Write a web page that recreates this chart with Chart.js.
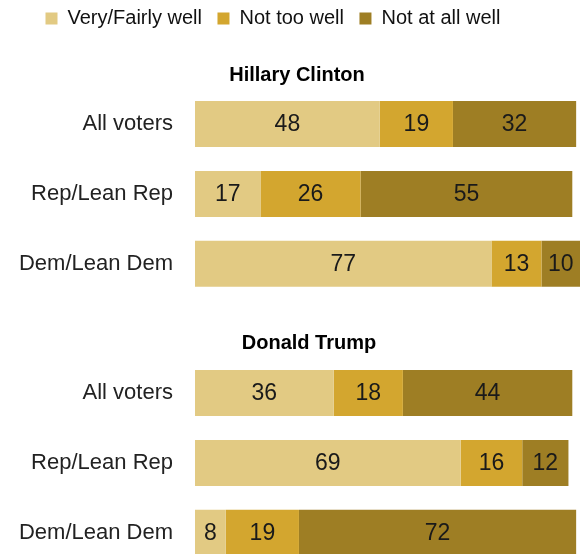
<!DOCTYPE html>
<html>
<head>
<meta charset="utf-8">
<script src="https://cdn.jsdelivr.net/npm/chart.js@4"></script>
<style>
    html, body { margin: 0; padding: 0; background: #fff; overflow: hidden; }
    #wrap { position: relative; width: 584px; height: 554px; overflow: hidden; }
    /* canvases are taller than their slot because the y axis reserves room
       under the last label; they overlap on transparent space */
    #clintonBox { position: absolute; left: 0; top: 0; width: 584px; height: 334px; }
    #trumpBox { position: absolute; left: 0; top: 300px; width: 584px; height: 303px; }
</style>
</head>
<body>
<div id="wrap">
    <div id="clintonBox"><canvas id="clintonChart"></canvas></div>
    <div id="trumpBox"><canvas id="trumpChart"></canvas></div>
</div>
<script>
// ==========================================
// DATA
// ==========================================
const categories = ['All voters', 'Rep/Lean Rep', 'Dem/Lean Dem'];
const seriesNames = ['Very/Fairly well', 'Not too well', 'Not at all well'];

const clintonWell = [48, 17, 77];
const clintonNotToo = [19, 26, 13];
const clintonNotAtAll = [32, 55, 10];

const trumpWell = [36, 69, 8];
const trumpNotToo = [18, 16, 19];
const trumpNotAtAll = [44, 12, 72];

const seriesColors = ['#E2CA83', '#D3A62F', '#9E7E24'];
const fontFamily = '"Liberation Sans", Arial, sans-serif';

// ==========================================
// VALUE LABELS INSIDE THE BARS
// ==========================================
const barValues = {
    id: 'barValues',
    afterDatasetsDraw(chart) {
        const ctx = chart.ctx;
        ctx.save();
        ctx.font = '23px ' + fontFamily;
        ctx.fillStyle = '#1a1a1a';
        ctx.textAlign = 'center';
        ctx.textBaseline = 'middle';
        chart.data.datasets.forEach((ds, i) => {
            const meta = chart.getDatasetMeta(i);
            meta.data.forEach((bar, j) => {
                const p = bar.getProps(['x', 'y', 'base'], true);
                ctx.fillText(ds.data[j], (p.x + p.base) / 2, p.y + 1);
            });
        });
        ctx.restore();
    }
};

// nudge legend and title sideways, like the original
const boxShift = {
    id: 'boxShift',
    afterLayout(chart, args, options) {
        if (chart.legend && chart.options.plugins.legend.display) {
            chart.legend.left += 30;
            chart.legend.right += 30;
        }
        if (chart.titleBlock) {
            chart.titleBlock.left += options.title;
            chart.titleBlock.right += options.title;
        }
    }
};

function makeChart(canvasId, title, values, opts) {
    const ctx = document.getElementById(canvasId).getContext('2d');
    return new Chart(ctx, {
        type: 'bar',
        data: {
            labels: categories,
            datasets: values.map((v, i) => ({
                label: seriesNames[i],
                data: v,
                backgroundColor: seriesColors[i],
                borderWidth: 0,
                barPercentage: 46 / 70,
                categoryPercentage: 1
            }))
        },
        options: {
            indexAxis: 'y',
            responsive: true,
            maintainAspectRatio: false,
            animation: false,
            layout: {
                padding: { left: 0, right: 4, top: opts.padTop, bottom: 0 }
            },
            scales: {
                x: {
                    stacked: true,
                    min: 0,
                    max: 100,
                    display: false
                },
                y: {
                    stacked: true,
                    grid: { display: false, drawTicks: false },
                    border: { display: false },
                    ticks: {
                        padding: 22,
                        color: '#222',
                        font: { family: fontFamily, size: 22 }
                    },
                    afterFit(scale) { scale.width = 195; }
                }
            },
            plugins: {
                tooltip: { enabled: false },
                boxShift: { title: opts.titleShift },
                legend: {
                    display: opts.legend,
                    position: 'top',
                    align: 'start',
                    weight: 3000,
                    labels: {
                        boxWidth: 12,
                        boxHeight: 12,
                        padding: 15.5,
                        color: '#111',
                        font: { family: fontFamily, size: 20 }
                    }
                },
                title: {
                    display: true,
                    text: title,
                    color: '#000',
                    font: { family: fontFamily, size: 20, weight: 'bold' },
                    padding: opts.titlePad
                }
            }
        },
        plugins: [barValues, boxShift]
    });
}

makeChart('clintonChart', 'Hillary Clinton',
    [clintonWell, clintonNotToo, clintonNotAtAll],
    { legend: true, padTop: -7, titleShift: 7, titlePad: { top: 25, bottom: 1.5 } });

makeChart('trumpChart', 'Donald Trump',
    [trumpWell, trumpNotToo, trumpNotAtAll],
    { legend: false, padTop: 0, titleShift: 19, titlePad: { top: 31, bottom: 3 } });
</script>
</body>
</html>
